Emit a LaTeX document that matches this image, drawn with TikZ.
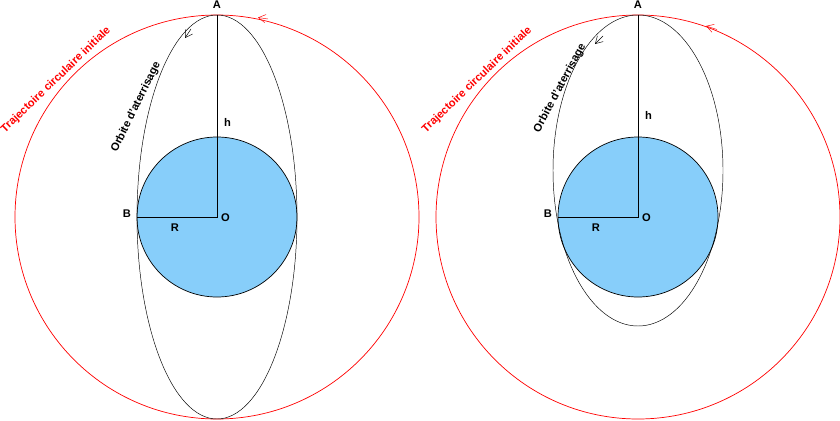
\documentclass[tikz,border=0pt]{standalone}
\usepackage{fontspec}
\setmainfont{Liberation Sans}
\usetikzlibrary{arrows.meta}
\definecolor{earth}{RGB}{135,206,250}
\begin{document}
\begin{tikzpicture}[
        x=0.03cm, y=-0.03cm,
        orbit/.style={draw=black, thin},
        initial/.style={draw=red, semithick},
        planet/.style={draw=black, fill=earth, semithick},
        lbl/.style={font=\bfseries\fontsize{9.5}{11}\selectfont},
        tip/.style={-{Straight Barb[length=6pt,width=7pt]}}
    ]
        \useasboundingbox (0,0) rectangle (840,420);

        % left: landing orbit touching the planet at B
        \coordinate (o1) at (217,217);
        \coordinate (p1) at (137,217);
        \draw[initial] (o1) circle (202);
        \draw[planet] (o1) circle (80);
        \draw[orbit] (o1) ellipse [x radius=80, y radius=202];
        \node[lbl, above] (a1) at (217,13) {A};
        \node[lbl, right] (h1) at (220,122) {h};
        \node[lbl, left] (b1) at (135,214) {B};
        \node[lbl, right] (c1) at (217,218) {O};
        \node[lbl] (r1) at (175,228) {R};
        \draw[thin] (217,15) -- (o1) -- (p1);
        \draw[red, tip] (268,19) -- (258,17.5);
        \draw[tip] (191,29) -- (185,38);
        \node[lbl, text=red, rotate=44] (t1) at (56,80) {Trajectoire circulaire initiale};
        \node[lbl, rotate=64] (e1) at (136,107) {Orbite d'aterrisage};

        % right: landing orbit with lower perigee
        \coordinate (o2) at (638,217);
        \coordinate (p2) at (558,217);
        \draw[initial] (o2) circle (202);
        \draw[planet] (o2) circle (80);
        \draw[orbit] (638,170.5) ellipse [x radius=85, y radius=155.5];
        \node[lbl, above] (a2) at (638,13) {A};
        \node[lbl, right] (h2) at (641,115) {h};
        \node[lbl, left] (b2) at (556,214) {B};
        \node[lbl, right] (c2) at (638,218) {O};
        \node[lbl] (r2) at (596,228) {R};
        \draw[thin] (638,15) -- (o2) -- (p2);
        \draw[red, tip] (717,29.5) -- (706,26);
        \draw[tip] (603,36) -- (595,44);
        \node[lbl, text=red, rotate=44] (t2) at (477,80) {Trajectoire circulaire initiale};
        \node[lbl, rotate=62] (e2) at (560,88) {Orbite d'aterrisage};
    \end{tikzpicture}
\end{document}
